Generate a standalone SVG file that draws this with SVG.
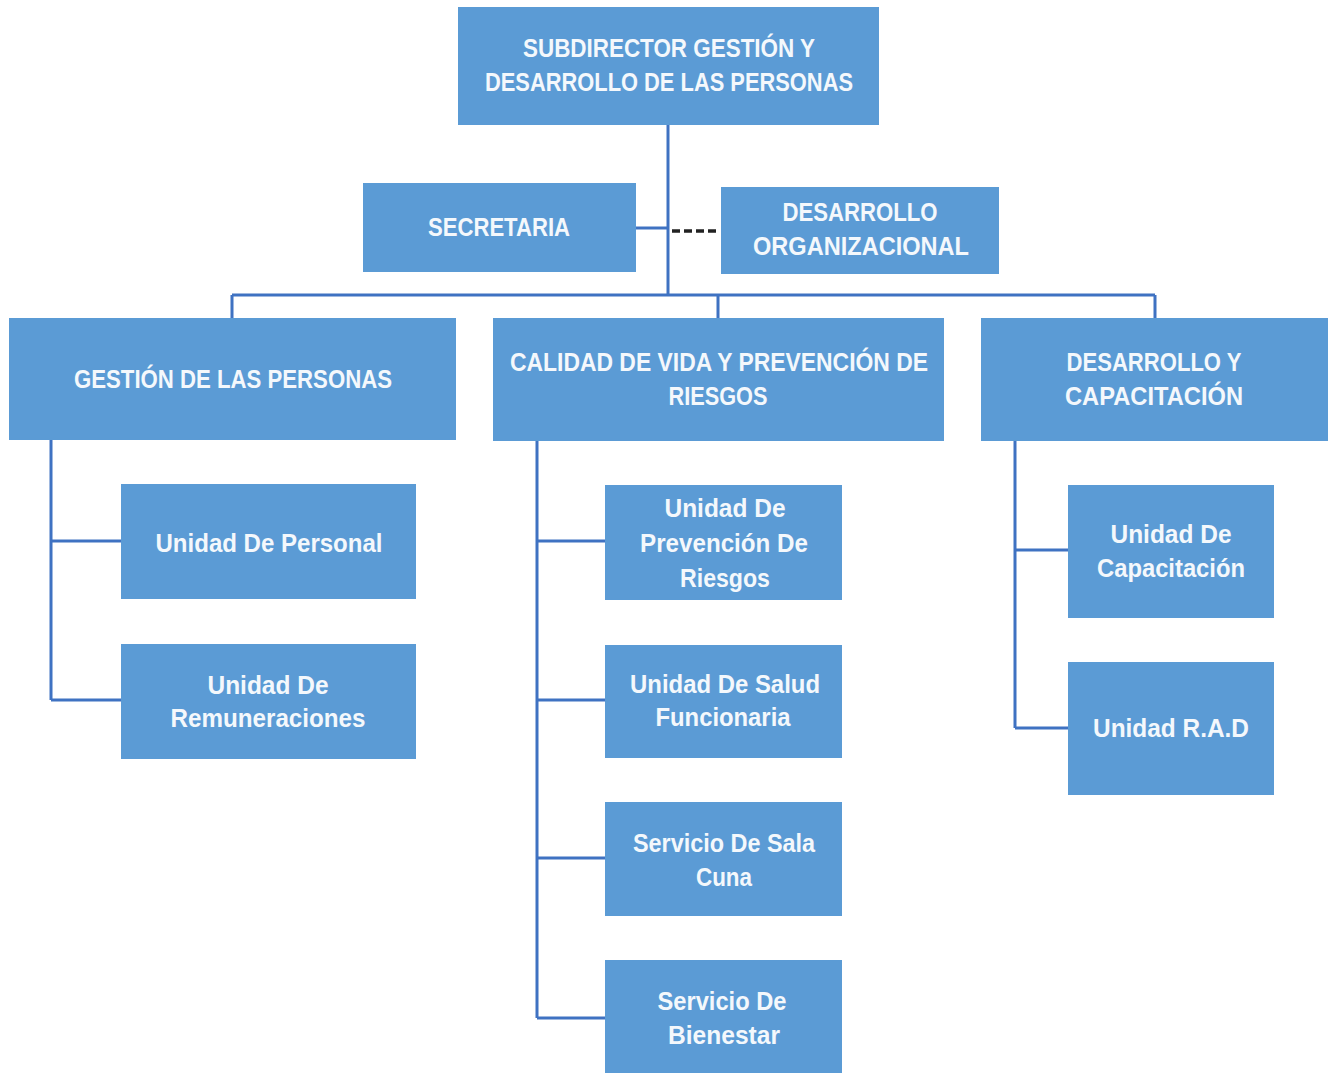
<svg xmlns="http://www.w3.org/2000/svg" width="1328" height="1073" viewBox="0 0 1328 1073">
<style>
.box{fill:#5B9BD5;}
.t{fill:#F4F8FC;font-family:"Liberation Sans",Arial,sans-serif;font-weight:bold;font-size:25px;text-anchor:middle;}
.ln{stroke:#3F72C2;stroke-width:3;fill:none;}
.dash{stroke:#222;stroke-width:3.5;stroke-dasharray:8,4;fill:none;}
</style>
<rect width="1328" height="1073" fill="#FFFFFF"/>
<g id="connectors">
<path class="ln" d="M668 125V295"/>
<path class="ln" d="M636 228H668"/>
<path class="dash" d="M672 231H720"/>
<path class="ln" d="M232 295H1155M232 295V318M718 295V318M1155 295V318"/>
<path class="ln" d="M51 440V700M51 541H121M51 700H121"/>
<path class="ln" d="M537 441V1018M537 541H605M537 700H605M537 858H605M537 1018H605"/>
<path class="ln" d="M1015 441V728M1015 550H1068M1015 728H1068"/>
</g>
<g id="subdirector">
<rect class="box" x="458" y="7" width="421" height="118"/>
<text class="t" x="669" y="57" textLength="292" lengthAdjust="spacingAndGlyphs">SUBDIRECTOR GESTIÓN Y</text>
<text class="t" x="669" y="91" textLength="368" lengthAdjust="spacingAndGlyphs">DESARROLLO DE LAS PERSONAS</text>
</g>
<g id="secretaria">
<rect class="box" x="363" y="183" width="273" height="89"/>
<text class="t" x="499" y="236" textLength="142" lengthAdjust="spacingAndGlyphs">SECRETARIA</text>
</g>
<g id="desarrollo-organizacional">
<rect class="box" x="721" y="187" width="278" height="87"/>
<text class="t" x="860" y="221" textLength="155" lengthAdjust="spacingAndGlyphs">DESARROLLO</text>
<text class="t" x="861" y="255" textLength="216" lengthAdjust="spacingAndGlyphs">ORGANIZACIONAL</text>
</g>
<g id="gestion-personas">
<rect class="box" x="9" y="318" width="447" height="122"/>
<text class="t" x="233" y="388" textLength="318" lengthAdjust="spacingAndGlyphs">GESTIÓN DE LAS PERSONAS</text>
</g>
<g id="calidad-vida">
<rect class="box" x="493" y="318" width="451" height="123"/>
<text class="t" x="719" y="371" textLength="418" lengthAdjust="spacingAndGlyphs">CALIDAD DE VIDA Y PREVENCIÓN DE</text>
<text class="t" x="718" y="405" textLength="99" lengthAdjust="spacingAndGlyphs">RIESGOS</text>
</g>
<g id="desarrollo-capacitacion">
<rect class="box" x="981" y="318" width="347" height="123"/>
<text class="t" x="1154" y="371" textLength="175" lengthAdjust="spacingAndGlyphs">DESARROLLO Y</text>
<text class="t" x="1154" y="405" textLength="178" lengthAdjust="spacingAndGlyphs">CAPACITACIÓN</text>
</g>
<g id="unidad-personal">
<rect class="box" x="121" y="484" width="295" height="115"/>
<text class="t" x="269" y="552" textLength="227" lengthAdjust="spacingAndGlyphs">Unidad De Personal</text>
</g>
<g id="unidad-remuneraciones">
<rect class="box" x="121" y="644" width="295" height="115"/>
<text class="t" x="268" y="694" textLength="121" lengthAdjust="spacingAndGlyphs">Unidad De</text>
<text class="t" x="268" y="727" textLength="195" lengthAdjust="spacingAndGlyphs">Remuneraciones</text>
</g>
<g id="unidad-prevencion">
<rect class="box" x="605" y="485" width="237" height="115"/>
<text class="t" x="725" y="517" textLength="121" lengthAdjust="spacingAndGlyphs">Unidad De</text>
<text class="t" x="724" y="552" textLength="168" lengthAdjust="spacingAndGlyphs">Prevención De</text>
<text class="t" x="725" y="587" textLength="90" lengthAdjust="spacingAndGlyphs">Riesgos</text>
</g>
<g id="unidad-salud">
<rect class="box" x="605" y="645" width="237" height="113"/>
<text class="t" x="725" y="693" textLength="190" lengthAdjust="spacingAndGlyphs">Unidad De Salud</text>
<text class="t" x="723" y="726" textLength="135" lengthAdjust="spacingAndGlyphs">Funcionaria</text>
</g>
<g id="sala-cuna">
<rect class="box" x="605" y="802" width="237" height="114"/>
<text class="t" x="724" y="852" textLength="182" lengthAdjust="spacingAndGlyphs">Servicio De Sala</text>
<text class="t" x="724" y="886" textLength="56" lengthAdjust="spacingAndGlyphs">Cuna</text>
</g>
<g id="bienestar">
<rect class="box" x="605" y="960" width="237" height="113"/>
<text class="t" x="722" y="1010" textLength="129" lengthAdjust="spacingAndGlyphs">Servicio De</text>
<text class="t" x="724" y="1044" textLength="112" lengthAdjust="spacingAndGlyphs">Bienestar</text>
</g>
<g id="unidad-capacitacion">
<rect class="box" x="1068" y="485" width="206" height="133"/>
<text class="t" x="1171" y="543" textLength="121" lengthAdjust="spacingAndGlyphs">Unidad De</text>
<text class="t" x="1171" y="577" textLength="148" lengthAdjust="spacingAndGlyphs">Capacitación</text>
</g>
<g id="unidad-rad">
<rect class="box" x="1068" y="662" width="206" height="133"/>
<text class="t" x="1171" y="737" textLength="156" lengthAdjust="spacingAndGlyphs">Unidad R.A.D</text>
</g>
</svg>
